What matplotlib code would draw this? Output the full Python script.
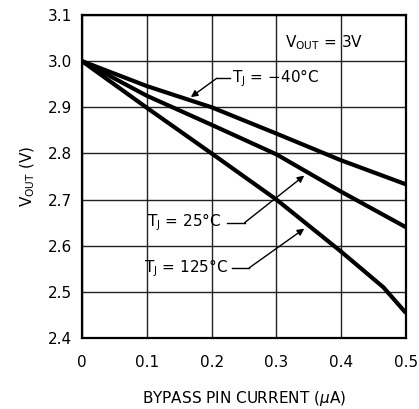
import matplotlib
matplotlib.use("Agg")
import matplotlib.pyplot as plt

# bypass pin current (uA) vs output voltage (V)
x_m40 = [0.0, 0.1, 0.2, 0.3, 0.4, 0.5]
v_m40 = [3.0, 2.946, 2.900, 2.843, 2.785, 2.733]

x_25 = [0.0, 0.1, 0.2, 0.3, 0.4, 0.5]
v_25 = [3.0, 2.925, 2.862, 2.798, 2.717, 2.640]

x_125 = [0.0, 0.1, 0.2, 0.3, 0.4, 0.465, 0.5]
v_125 = [3.0, 2.899, 2.800, 2.700, 2.587, 2.510, 2.454]

xticks = [0, 0.1, 0.2, 0.3, 0.4, 0.5]
xtick_labels = ["0", "0.1", "0.2", "0.3", "0.4", "0.5"]
yticks = [2.4, 2.5, 2.6, 2.7, 2.8, 2.9, 3.0, 3.1]

plt.rcParams["font.family"] = "DejaVu Sans"
fs = 11

fig = plt.figure(figsize=(4.19, 4.09), dpi=100)
ax = fig.add_axes([0.1957, 0.1736, 0.7733, 0.7897])

for xs, vs in [(x_m40, v_m40), (x_25, v_25), (x_125, v_125)]:
	ax.plot(xs, vs, color="black", lw=3, solid_capstyle="butt", zorder=3)

ax.set_xlim(0, 0.5)
ax.set_ylim(2.4, 3.1)
ax.set_xticks(xticks)
ax.set_xticklabels(xtick_labels)
ax.set_yticks(yticks)
ax.set_yticklabels(["%.1f" % v for v in yticks])
ax.tick_params(axis="x", length=0, labelsize=fs, pad=12)
ax.tick_params(axis="y", length=0, labelsize=fs, pad=7)
ax.grid(True, color="#222222", lw=1.0)
for s in ax.spines.values():
	s.set_linewidth(1.6)

ax.set_xlabel("BYPASS PIN CURRENT ($\\mu$A)", fontsize=fs, labelpad=14)
ax.set_ylabel("V$_{\\mathregular{OUT}}$ (V)", fontsize=fs, labelpad=8)

ax.text(0.314, 3.041, "V$_{\\mathregular{OUT}}$ = 3V", fontsize=fs, va="center", ha="left")

arrow = dict(arrowstyle="-|>", color="black", lw=1, mutation_scale=10, shrinkA=0, shrinkB=0)

# -40C label: horizontal stub then diagonal to the curve
ax.annotate("", xy=(0.168, 2.922), xytext=(0.208, 2.963), arrowprops=arrow)
ax.plot([0.208, 0.228], [2.963, 2.963], color="black", lw=1)
ax.text(0.231, 2.963, "T$_{\\mathregular{J}}$ = \u221240\u00b0C", fontsize=fs, va="center", ha="left")

# 25C label
ax.annotate("", xy=(0.343, 2.752), xytext=(0.251, 2.65), arrowprops=arrow)
ax.plot([0.223, 0.251], [2.65, 2.65], color="black", lw=1)
ax.text(0.215, 2.65, "T$_{\\mathregular{J}}$ = 25\u00b0C", fontsize=fs, va="center", ha="right")

# 125C label
ax.annotate("", xy=(0.343, 2.637), xytext=(0.258, 2.552), arrowprops=arrow)
ax.plot([0.232, 0.258], [2.552, 2.552], color="black", lw=1)
ax.text(0.225, 2.552, "T$_{\\mathregular{J}}$ = 125\u00b0C", fontsize=fs, va="center", ha="right")

fig.savefig("out.png", dpi=100)
